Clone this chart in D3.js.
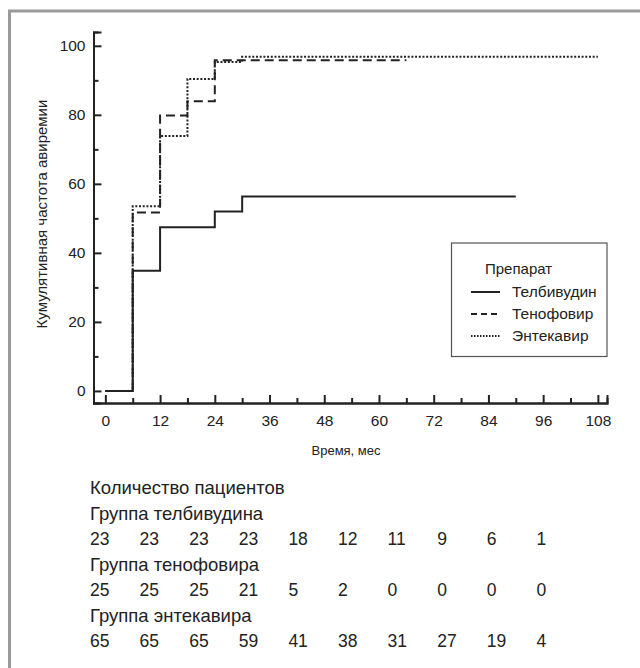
<!DOCTYPE html>
<html>
<head>
<meta charset="utf-8">
<script src="https://cdn.jsdelivr.net/npm/d3@7"></script>
<style>
  body { margin: 0; background: #fff; }
  svg text { font-family: 'Liberation Sans', Arial, sans-serif; fill: #222; }
</style>
</head>
<body>
<div id="chart"></div>
<script>
const width = 640;
const height = 668;

// Data (months, cumulative %)
const telbTimes = [0, 6, 12, 24, 30, 90];
const telbValues = [0, 34.8, 47.4, 52.0, 56.3, 56.3];
const tenoTimes = [0, 6, 12, 18, 24, 66];
const tenoValues = [0, 51.7, 79.8, 83.9, 95.8, 95.8];
const entTimes = [0, 6, 12, 18, 24, 30, 108];
const entValues = [0, 53.5, 73.9, 90.4, 95.3, 96.8, 96.8];

const seriesNames = ["Телбивудин", "Тенофовир", "Энтекавир"];
const xTicks = [0, 12, 24, 36, 48, 60, 72, 84, 96, 108];
const yTicks = [0, 20, 40, 60, 80, 100];

// Number at risk table
const riskTitle = "Количество пациентов";
const riskGroups = ["Группа телбивудина", "Группа тенофовира", "Группа энтекавира"];
const riskTelb = [23, 23, 23, 23, 18, 12, 11, 9, 6, 1];
const riskTeno = [25, 25, 25, 21, 5, 2, 0, 0, 0, 0];
const riskEnt = [65, 65, 65, 59, 41, 38, 31, 27, 19, 4];

const font = "'Liberation Sans', Arial, sans-serif";

const svg = d3.select("#chart")
    .append("svg")
    .attr("width", width)
    .attr("height", height)
    .attr("font-family", font);

// outer frame (open on the right/bottom, cropped)
svg.append("rect")
    .attr("x", 9.5)
    .attr("y", 11)
    .attr("width", 700)
    .attr("height", 700)
    .attr("fill", "none")
    .attr("stroke", "#9a9a9a")
    .attr("stroke-width", 3);

// scales
const x = d3.scaleLinear().domain([-2.6, 110]).range([93.5, 607]);
const y = d3.scaleLinear().domain([-3.5, 104]).range([403, 32]);

// y axis
const yAxis = d3.axisLeft(y).tickValues(yTicks).tickSize(-8).tickPadding(8);
svg.append("g").attr("transform", `translate(${x(-2.6)},0)`).call(yAxis);
svg.append("g").attr("transform", `translate(${x(-2.6)},0)`)
    .call(d3.axisLeft(y).tickValues([10, 30, 50, 70, 90]).tickSize(-5).tickFormat(""));

// x axis
const xAxis = d3.axisBottom(x).tickValues(xTicks).tickSize(-8).tickPadding(12);
svg.append("g").attr("transform", `translate(0,${y(-3.5)})`).call(xAxis);
svg.append("g").attr("transform", `translate(0,${y(-3.5)})`)
    .call(d3.axisBottom(x).tickValues(d3.range(6, 108, 12)).tickSize(-5).tickFormat(""));

svg.selectAll("g").attr("font-family", font);
svg.selectAll(".domain").attr("stroke", "#222").attr("stroke-width", 2);
svg.selectAll(".tick line").attr("stroke", "#222").attr("stroke-width", 2);
svg.selectAll(".tick text").attr("font-size", 15.5).attr("fill", "#222");

// axis titles
svg.append("text")
    .attr("transform", "rotate(-90)")
    .attr("x", -214)
    .attr("y", 47)
    .attr("text-anchor", "middle")
    .attr("font-size", 15)
    .text("Кумулятивная частота авиремии");

svg.append("text")
    .attr("x", 346)
    .attr("y", 455)
    .attr("text-anchor", "middle")
    .attr("font-size", 13)
    .text("Время, мес");

// curves
const line = d3.line()
    .x(d => x(d[0]))
    .y(d => y(d[1]))
    .curve(d3.curveStepAfter);

const series = [
    { name: seriesNames[0], pts: d3.zip(telbTimes, telbValues), dash: null },
    { name: seriesNames[1], pts: d3.zip(tenoTimes, tenoValues), dash: "9,5" },
    { name: seriesNames[2], pts: d3.zip(entTimes, entValues), dash: "2,1.7" }
];

svg.selectAll("path.km")
    .data(series)
    .enter()
    .append("path")
    .attr("class", "km")
    .attr("d", d => line(d.pts))
    .attr("fill", "none")
    .attr("stroke", "#222")
    .attr("stroke-width", 2)
    .attr("stroke-dasharray", d => d.dash);

// legend
const legend = svg.append("g");
legend.append("rect")
    .attr("x", 451.5)
    .attr("y", 243)
    .attr("width", 155.5)
    .attr("height", 113.5)
    .attr("fill", "#fff")
    .attr("stroke", "#555")
    .attr("stroke-width", 1.2);
legend.append("text")
    .attr("x", 485)
    .attr("y", 274)
    .attr("font-size", 15)
    .text("Препарат");
series.forEach((s, i) => {
    const cy = 292 + i * 22;
    legend.append("line")
        .attr("x1", 471).attr("x2", 500)
        .attr("y1", cy).attr("y2", cy)
        .attr("stroke", "#222")
        .attr("stroke-width", 2)
        .attr("stroke-dasharray", i === 1 ? "6,4" : (i === 2 ? "1.5,1.5" : null));
    legend.append("text")
        .attr("x", 512)
        .attr("y", cy + 5)
        .attr("font-size", 15.5)
        .text(s.name);
});

// number at risk table
const col = d3.scaleLinear().domain([0, 108]).range([90, 536.4]);
const rowY = d3.scaleLinear().domain([0, 1]).range([494, 519.5]);

svg.append("text")
    .attr("x", col(0))
    .attr("y", rowY(0))
    .attr("font-size", 18.5)
    .text(riskTitle);

[riskTelb, riskTeno, riskEnt].forEach((vals, g) => {
    svg.append("text")
        .attr("x", col(0))
        .attr("y", rowY(1 + g * 2))
        .attr("font-size", 18.5)
        .text(riskGroups[g]);
    svg.selectAll(null)
        .data(vals)
        .enter()
        .append("text")
        .attr("x", (d, i) => col(xTicks[i]))
        .attr("y", rowY(2 + g * 2))
        .attr("font-size", 17.5)
        .text(d => d);
});
</script>
</body>
</html>
